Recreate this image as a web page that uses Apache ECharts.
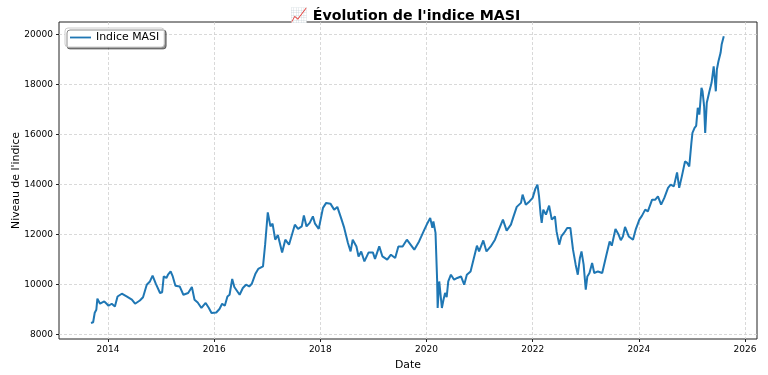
<!DOCTYPE html>
<html>
<head>
<meta charset="utf-8">
<script src="https://cdn.jsdelivr.net/npm/echarts@6/dist/echarts.min.js"></script>
<style>
html,body{margin:0;padding:0;background:#fff;}
#c{width:768px;height:375px;}
</style>
</head>
<body>
<div id="c"></div>
<script>
// Decimal year of each observation
const years = [
2013.68,2013.70,2013.72,2013.75,2013.78,2013.80,2013.85,2013.93,2013.97,2014.01,
2014.07,2014.13,2014.18,2014.26,2014.35,2014.45,2014.51,2014.60,2014.66,2014.73,
2014.79,2014.84,2014.90,2014.98,2015.02,2015.05,2015.10,2015.13,2015.18,2015.22,
2015.27,2015.35,2015.42,2015.51,2015.58,2015.63,2015.69,2015.76,2015.84,2015.90,
2015.95,2016.04,2016.10,2016.15,2016.20,2016.25,2016.29,2016.34,2016.38,2016.48,
2016.54,2016.60,2016.66,2016.71,2016.78,2016.83,2016.92,2016.96,2017.01,2017.06,
2017.10,2017.15,2017.20,2017.28,2017.34,2017.41,2017.52,2017.58,2017.65,2017.69,
2017.74,2017.80,2017.86,2017.90,2017.97,2018.05,2018.11,2018.19,2018.26,2018.32,
2018.39,2018.45,2018.52,2018.57,2018.61,2018.68,2018.72,2018.77,2018.83,2018.91,
2018.99,2019.03,2019.11,2019.17,2019.26,2019.33,2019.41,2019.47,2019.55,2019.63,
2019.70,2019.77,2019.86,2019.96,2020.02,2020.07,2020.11,2020.13,2020.17,2020.20,
2020.21,2020.24,2020.29,2020.32,2020.35,2020.38,2020.41,2020.46,2020.52,2020.58,
2020.65,2020.71,2020.76,2020.83,2020.90,2020.95,2020.99,2021.07,2021.13,2021.21,
2021.29,2021.35,2021.44,2021.51,2021.59,2021.64,2021.70,2021.78,2021.81,2021.87,
2021.94,2022.00,2022.05,2022.09,2022.12,2022.15,2022.17,2022.20,2022.25,2022.31,
2022.36,2022.42,2022.45,2022.50,2022.54,2022.59,2022.65,2022.71,2022.76,2022.81,
2022.85,2022.89,2022.92,2022.96,2023.00,2023.03,2023.07,2023.12,2023.16,2023.23,
2023.31,2023.34,2023.39,2023.45,2023.49,2023.56,2023.61,2023.66,2023.70,2023.74,
2023.81,2023.89,2023.94,2024.01,2024.06,2024.12,2024.17,2024.25,2024.31,2024.36,
2024.42,2024.48,2024.55,2024.60,2024.66,2024.72,2024.76,2024.81,2024.87,2024.91,
2024.95,2024.99,2025.01,2025.05,2025.08,2025.11,2025.14,2025.18,2025.20,2025.23,
2025.25,2025.28,2025.33,2025.37,2025.39,2025.41,2025.44,2025.45,2025.47,2025.50,
2025.54,2025.56,2025.60
];
// MASI index level
const masi = [
8470,8440,8500,8880,9000,9440,9240,9330,9250,9160,
9240,9130,9530,9640,9530,9400,9240,9370,9500,10000,
10130,10360,10040,9670,9700,10330,10270,10400,10530,10330,
9960,9930,9600,9670,9910,9400,9290,9070,9270,9070,
8870,8890,9030,9240,9160,9530,9600,10230,9910,9600,
9870,10000,9930,10040,10450,10630,10730,11600,12890,12330,
12440,11800,11990,11290,11800,11600,12400,12230,12330,12770,
12330,12470,12730,12440,12230,13070,13270,13240,13000,13110,
12670,12270,11670,11330,11800,11530,11130,11330,10930,11290,
11290,11030,11530,11130,11000,11200,11070,11530,11530,11800,
11600,11400,11730,12200,12470,12670,12270,12530,12070,10200,
9070,10130,9070,9400,9670,9500,10130,10400,10200,10270,
10330,10000,10400,10530,11130,11560,11330,11770,11330,11530,
11800,12130,12600,12160,12400,12730,13110,13270,13600,13200,
13330,13470,13830,14000,13530,12800,12470,13000,12800,13160,
12600,12730,12130,11600,11930,12070,12270,12270,11400,10800,
10400,11070,11330,10800,9800,10330,10470,10870,10470,10530,
10470,10470,11200,11730,11560,12230,12040,11780,11930,12310,
11930,11800,12200,12600,12760,13000,12930,13400,13400,13530,
13200,13470,13870,14000,13930,14490,13870,14330,14930,14870,
14730,15670,16070,16270,16350,17070,16800,17870,17730,17130,
16070,17270,17730,18070,18130,18730,18000,17730,18600,18930,
19270,19600,19930
];
const xTicks = [2014,2016,2018,2020,2022,2024,2026];
const yTicks = [8000,10000,12000,14000,16000,18000,20000];

const font = 'DejaVu Sans';
const chart = echarts.init(document.getElementById('c'), null, {renderer:'canvas'});
chart.setOption({
  animation:false,
  backgroundColor:'#fff',
  title:{
    text:"📈 Évolution de l'indice MASI",
    left:400, top:4, textAlign:'center',
    textStyle:{fontFamily:font,fontSize:14.2,fontWeight:'bold',color:'#000'}
  },
  legend:{
    left:65, top:28,
    padding:[4,5,4,5],
    itemWidth:21, itemHeight:10, itemGap:6,
    backgroundColor:'#fff',
    borderColor:'#cccccc', borderWidth:1, borderRadius:3,
    shadowColor:'rgba(0,0,0,0.45)', shadowOffsetX:2, shadowOffsetY:2, shadowBlur:0,
    textStyle:{fontFamily:font,fontSize:10.9,color:'#000'},
    data:[{name:'Indice MASI', icon:'path://M0,4.1 L21,4.1 L21,5.9 L0,5.9 Z'}]
  },
  grid:{
    left:59, top:22, width:698, height:317,
    containLabel:false, outerBoundsMode:'none',
    show:true, borderColor:'#222', borderWidth:1, backgroundColor:'transparent'
  },
  xAxis:{
    type:'value', min:2013.077, max:2026.226,
    name:'Date', nameLocation:'middle', nameGap:21, nameMoveOverlap:false,
    nameTextStyle:{fontFamily:font,fontSize:10.9,color:'#000'},
    axisLine:{show:false},
    axisTick:{show:true,length:3,customValues:xTicks,lineStyle:{color:'#222'}},
    axisLabel:{fontFamily:font,fontSize:9,color:'#000',margin:6,customValues:xTicks,
      formatter:v=>String(Math.round(v))},
    splitLine:{show:true,lineStyle:{color:'#cfcfcf',type:[3,2],width:0.8}}
  },
  yAxis:{
    type:'value', min:7830, max:20500,
    name:"Niveau de l'indice", nameLocation:'middle', nameGap:37, nameMoveOverlap:false,
    nameTextStyle:{fontFamily:font,fontSize:10.9,color:'#000'},
    axisLine:{show:false},
    axisTick:{show:true,length:3,customValues:yTicks,lineStyle:{color:'#222'}},
    axisLabel:{fontFamily:font,fontSize:9,color:'#000',margin:6,customValues:yTicks,
      formatter:v=>String(Math.round(v))},
    splitLine:{show:true,lineStyle:{color:'#cfcfcf',type:[3,2],width:0.8}}
  },
  series:[{
    name:'Indice MASI', type:'line', symbol:'none',
    data: years.map((y,i)=>[y, masi[i]]),
    lineStyle:{color:'#1f77b4',width:2},
    itemStyle:{color:'#1f77b4'}
  }]
});
</script>
</body>
</html>
